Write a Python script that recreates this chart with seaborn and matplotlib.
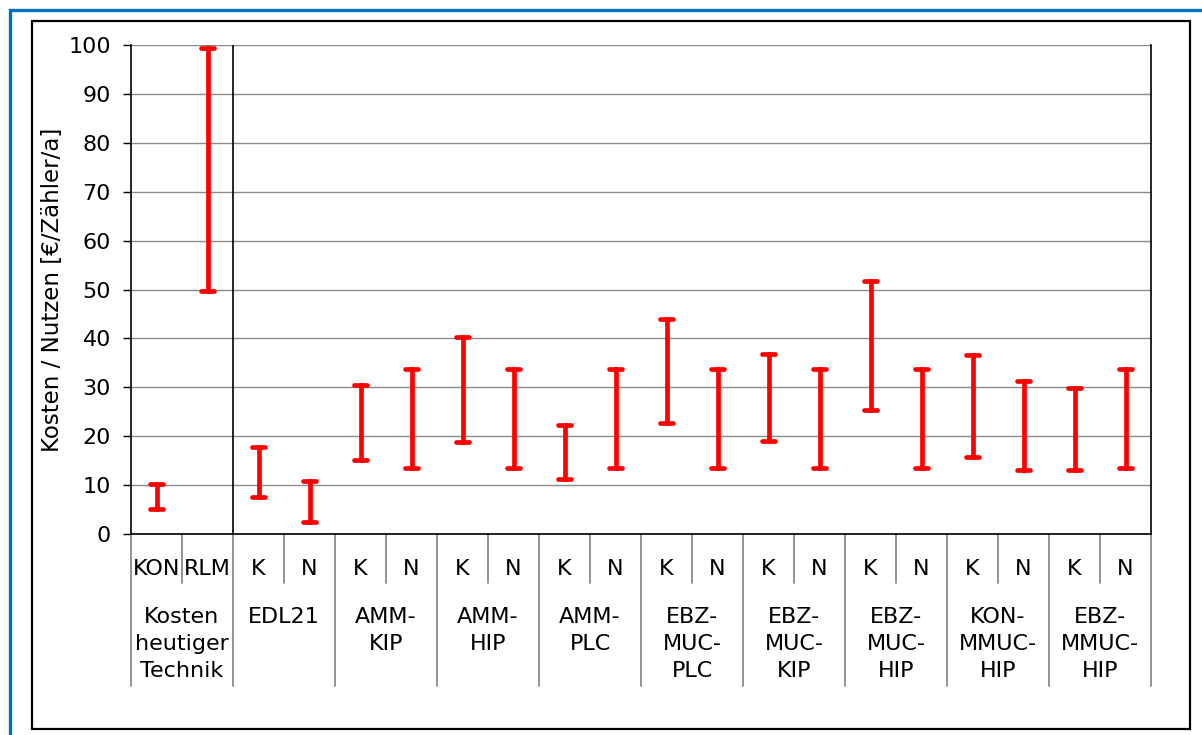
import numpy as np
import pandas as pd
import matplotlib
matplotlib.use("Agg")
import matplotlib.pyplot as plt
import matplotlib.transforms as mtransforms
from matplotlib.patches import Rectangle
import seaborn as sns

# ---- data -------------------------------------------------------------
groups = ["Kosten\nheutiger\nTechnik", "EDL21", "AMM-\nKIP", "AMM-\nHIP", "AMM-\nPLC",
          "EBZ-\nMUC-\nPLC", "EBZ-\nMUC-\nKIP", "EBZ-\nMUC-\nHIP", "KON-\nMMUC-\nHIP",
          "EBZ-\nMMUC-\nHIP"]
sub_labels = ["KON", "RLM"] + ["K", "N"] * 9
low = [5.1, 49.6, 7.6, 2.5, 15.2, 13.5, 18.9, 13.5, 11.3, 13.5,
       22.8, 13.5, 19.1, 13.5, 25.3, 13.5, 15.8, 13.0, 13.0, 13.5]
high = [10.2, 99.3, 17.8, 10.9, 30.5, 33.8, 40.2, 33.8, 22.3, 33.8,
        44.0, 33.8, 36.9, 33.8, 51.7, 33.8, 36.7, 31.3, 29.8, 33.8]
y_ticks = list(range(0, 101, 10))
y_label = "Kosten / Nutzen [€/Zähler/a]"

cats = [f"c{i:02d}" for i in range(len(sub_labels))]
df = pd.DataFrame({
    "cat": cats * 2,
    "value": low + high,
})

# ---- style ------------------------------------------------------------
sns.set_theme(style="white")
plt.rcParams["font.family"] = ["DejaVu Sans"]
plt.rcParams["text.color"] = "black"

fig = plt.figure(figsize=(12.02, 7.35), dpi=100)
fig.patch.set_facecolor("white")
ax = fig.add_axes([131 / 1202, 201 / 735, 1020 / 1202, 489 / 735])

sns.pointplot(data=df, x="cat", y="value", order=cats, errorbar=("pi", 100),
              capsize=0.26, color="#FF0000", linestyle="none", marker="",
              err_kws={"linewidth": 3.4, "solid_capstyle": "round"}, ax=ax)

ax.set_xlim(-0.5, len(cats) - 0.5)
ax.set_ylim(0, 100)
ax.set_yticks(y_ticks)
ax.set_xticks([])
ax.set_xlabel("")
ax.yaxis.grid(True, color="#8c8c8c", linewidth=1.0)
ax.xaxis.grid(False)
ax.set_axisbelow(True)
ax.tick_params(axis="y", direction="out", length=5.8, width=1.0, pad=8.6,
               labelsize=16, left=True, color="black", labelcolor="black")
for s in ["left", "bottom", "right"]:
    ax.spines[s].set_visible(True)
    ax.spines[s].set_color("black")
    ax.spines[s].set_linewidth(1.2)
ax.spines["top"].set_visible(False)

ax.set_ylabel(y_label, fontsize=16.5, color="black")
ax.yaxis.set_label_coords(-0.066, 0.5)

# separator between current technology and the rest
ax.axvline(1.5, color="black", linewidth=1.2, zorder=1)

# ---- category axis (two levels) ---------------------------------------
trans = mtransforms.blended_transform_factory(ax.transData, ax.transAxes)
n = len(cats)
for i in range(n):
    ax.text(i, -0.0716, sub_labels[i], transform=trans, ha="center", va="center",
            fontsize=16, color="black")
for g, name in enumerate(groups):
    ax.text(2 * g + 0.5, -0.150, name, transform=trans, ha="center", va="top",
            fontsize=16, color="black", linespacing=1.43, multialignment="center")
for g in range(len(groups)):
    xs = 2 * g + 0.5
    ax.plot([xs, xs], [0, -0.100], transform=trans, color="#808080", lw=1.2,
            clip_on=False)
for g in range(len(groups) + 1):
    xl = 2 * g - 0.5
    ax.plot([xl, xl], [0, -0.311], transform=trans, color="#808080", lw=1.2,
            clip_on=False)

# ---- frames -----------------------------------------------------------
fig.add_artist(Rectangle((32 / 1202, 6 / 735), (1190 - 32) / 1202, (729 - 21) / 735 + 0.0,
                         transform=fig.transFigure, fill=False, edgecolor="black",
                         linewidth=1.6))
fig.add_artist(Rectangle((9.5 / 1202, -0.1), 1.2, 1 - 10 / 735 + 0.1,
                         transform=fig.transFigure, fill=False, edgecolor="#0070C0",
                         linewidth=2.4))

fig.savefig("out.png", dpi=100, facecolor="white")
